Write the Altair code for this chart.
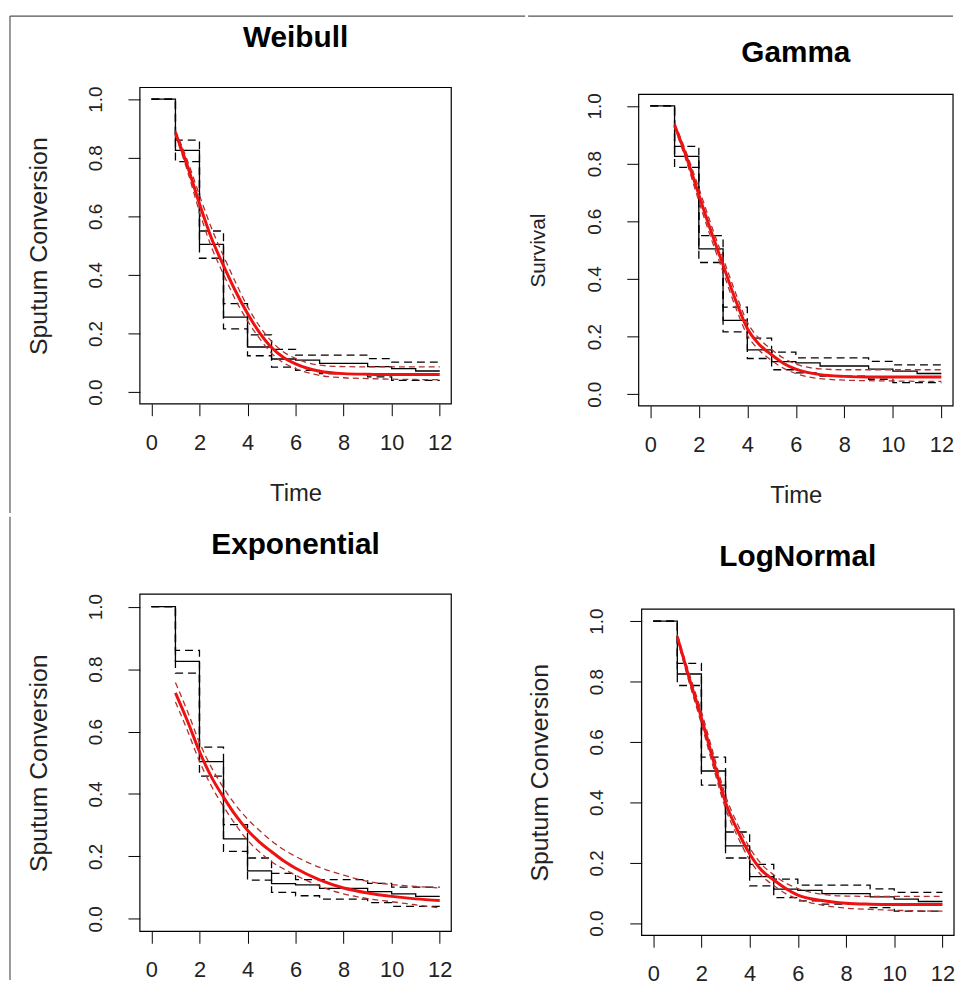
import altair as alt
import pandas as pd

# ---------------- data ----------------
km_t = [0, 1, 2, 3, 4, 5, 6, 7, 9, 10, 11, 12]
km_s = [1.0, 0.825, 0.504, 0.256, 0.154, 0.113, 0.109, 0.098, 0.087, 0.080, 0.072, 0.072]
km_up = [1.0, 0.860, 0.550, 0.302, 0.195, 0.146, 0.126, 0.126, 0.114, 0.102, 0.102, 0.102]
km_lo = [1.0, 0.787, 0.457, 0.216, 0.124, 0.085, 0.074, 0.063, 0.052, 0.040, 0.040, 0.040]

fit_t = [1, 1.5, 2, 2.5, 3, 3.5, 4, 4.5, 5, 5.5, 6, 7, 8, 9, 10, 11, 12]

weib_s = [0.885, 0.772, 0.643, 0.525, 0.432, 0.345, 0.268, 0.203, 0.152, 0.118, 0.096, 0.071, 0.063, 0.061, 0.060, 0.060, 0.060]
weib_up = [0.893, 0.790, 0.672, 0.560, 0.465, 0.375, 0.292, 0.225, 0.173, 0.137, 0.115, 0.092, 0.087, 0.086, 0.086, 0.086, 0.086]
weib_lo = [0.877, 0.755, 0.615, 0.495, 0.402, 0.315, 0.243, 0.183, 0.133, 0.100, 0.080, 0.057, 0.049, 0.046, 0.044, 0.043, 0.042]

gam_s = [0.933, 0.820, 0.692, 0.566, 0.448, 0.330, 0.228, 0.172, 0.137, 0.107, 0.087, 0.068, 0.062, 0.060, 0.060, 0.060, 0.060]
gam_up = [0.940, 0.835, 0.715, 0.590, 0.472, 0.355, 0.250, 0.192, 0.155, 0.125, 0.105, 0.088, 0.085, 0.085, 0.085, 0.085, 0.085]
gam_lo = [0.926, 0.805, 0.670, 0.542, 0.424, 0.305, 0.205, 0.152, 0.117, 0.090, 0.072, 0.054, 0.049, 0.047, 0.046, 0.045, 0.045]

exp_s = [0.724, 0.634, 0.536, 0.454, 0.390, 0.332, 0.284, 0.246, 0.215, 0.186, 0.162, 0.125, 0.099, 0.083, 0.072, 0.064, 0.059]
exp_up = [0.757, 0.665, 0.565, 0.485, 0.420, 0.365, 0.320, 0.283, 0.250, 0.222, 0.200, 0.165, 0.140, 0.120, 0.110, 0.104, 0.099]
exp_lo = [0.695, 0.603, 0.505, 0.425, 0.360, 0.302, 0.252, 0.214, 0.183, 0.160, 0.140, 0.105, 0.080, 0.065, 0.055, 0.045, 0.035]

ln_s = [0.948, 0.810, 0.680, 0.537, 0.400, 0.307, 0.230, 0.175, 0.143, 0.115, 0.093, 0.075, 0.066, 0.063, 0.062, 0.062, 0.062]
ln_up = [0.955, 0.825, 0.700, 0.560, 0.422, 0.328, 0.250, 0.195, 0.160, 0.133, 0.115, 0.096, 0.090, 0.089, 0.089, 0.089, 0.089]
ln_lo = [0.940, 0.795, 0.660, 0.515, 0.380, 0.287, 0.210, 0.157, 0.125, 0.098, 0.080, 0.060, 0.050, 0.046, 0.043, 0.041, 0.040]

x_ticks = [0, 2, 4, 6, 8, 10, 12]
y_ticks = [0.0, 0.2, 0.4, 0.6, 0.8, 1.0]

FONT = "Liberation Sans"
BORDER = "#555555"


def border_rule(x1, x2, y1, y2):
    return alt.Chart(pd.DataFrame({"k": [0]})).mark_rule(
        color=BORDER, strokeWidth=1.2
    ).encode(x=alt.value(x1), x2=alt.value(x2), y=alt.value(y1), y2=alt.value(y2))


def panel(title_text, ytitle, ytitle_size, fs, fu, fl, width, row_h, box_top,
          box_bot, title_y, ytitle_x, x_offset, show_xtitle, extras):
    km_df = pd.DataFrame({"t": km_t, "s": km_s, "up": km_up, "lo": km_lo})
    fit_df = pd.DataFrame({"t": fit_t, "s": fs, "up": fu, "lo": fl})

    xscale = alt.Scale(domain=[-0.48, 12.48], nice=False, zero=False)
    yscale = alt.Scale(domain=[-0.04, 1.04], range=[box_bot, box_top],
                       nice=False, zero=False)

    xaxis_kw = dict(values=x_ticks, grid=False, domain=False, tickSize=12,
                    tickColor="black", tickWidth=1, labelFontSize=22, labelFont=FONT,
                    labelColor="#222", labelPadding=17, labelFlush=False,
                    offset=x_offset)
    if show_xtitle:
        xaxis_kw.update(title="Time", titleFontSize=24, titleFont=FONT,
                        titleFontWeight="normal", titleColor="#222",
                        titleX=width / 2, titleY=91, titleBaseline="middle")
    else:
        xaxis_kw.update(title=None)
    xaxis = alt.Axis(**xaxis_kw)

    yaxis = alt.Axis(values=y_ticks, format=".1f", grid=False, domain=False,
                     tickSize=12, tickColor="black", tickWidth=1,
                     labelFontSize=19, labelFont=FONT, labelColor="#222",
                     labelAngle=270, labelAlign="center", labelBaseline="alphabetic",
                     labelPadding=27, labelFlush=False,
                     title=ytitle, titleFontSize=ytitle_size, titleFont=FONT,
                     titleFontWeight="normal", titleColor="#222",
                     titleAngle=270, titleX=ytitle_x,
                     titleY=(box_top + box_bot) / 2,
                     titleBaseline="middle", titleAlign="center")

    x = alt.X("t:Q", scale=xscale, axis=xaxis)
    y = alt.Y("s:Q", scale=yscale, axis=yaxis)

    frame = alt.Chart(pd.DataFrame({"k": [0]})).mark_rect(
        fillOpacity=0, stroke="black", strokeWidth=1.2
    ).encode(x=alt.value(0), x2=alt.value(width),
             y=alt.value(box_top), y2=alt.value(box_bot))

    title = alt.Chart(pd.DataFrame({"k": [0]})).mark_text(
        text=title_text, font=FONT, fontSize=30, fontWeight="bold",
        color="black", align="center", baseline="top"
    ).encode(x=alt.value(width / 2), y=alt.value(title_y))

    km_line = alt.Chart(km_df).mark_line(
        interpolate="step-after", color="black", strokeWidth=1.3
    ).encode(x=x, y=y)
    km_u = alt.Chart(km_df).mark_line(
        interpolate="step-after", color="black", strokeWidth=1.3, strokeDash=[8, 5]
    ).encode(x=alt.X("t:Q", scale=xscale), y=alt.Y("up:Q", scale=yscale))
    km_l = alt.Chart(km_df).mark_line(
        interpolate="step-after", color="black", strokeWidth=1.3, strokeDash=[8, 5]
    ).encode(x=alt.X("t:Q", scale=xscale), y=alt.Y("lo:Q", scale=yscale))

    f_u = alt.Chart(fit_df).mark_line(
        interpolate="monotone", color="#b03030", strokeWidth=1.3, strokeDash=[6, 4]
    ).encode(x=alt.X("t:Q", scale=xscale), y=alt.Y("up:Q", scale=yscale))
    f_l = alt.Chart(fit_df).mark_line(
        interpolate="monotone", color="#b03030", strokeWidth=1.3, strokeDash=[6, 4]
    ).encode(x=alt.X("t:Q", scale=xscale), y=alt.Y("lo:Q", scale=yscale))
    f_s = alt.Chart(fit_df).mark_line(
        interpolate="monotone", color="#ee1111", strokeWidth=3
    ).encode(x=alt.X("t:Q", scale=xscale), y=alt.Y("s:Q", scale=yscale))

    layers = [frame, km_line, km_u, km_l, f_u, f_l, f_s, title] + [
        border_rule(*e) for e in extras
    ]
    return alt.layer(*layers).properties(width=width, height=row_h)


# figure-frame lines (top edge and left edge of the picture), relative to each plot
p1 = panel("Weibull", "Sputum Conversion", 25, weib_s, weib_up, weib_lo,
           314, 321, 0, 319, -65, -102, -2, True,
           [(-131, 388.5, -72, -72), (-131, -131, -72, 429)])
p2 = panel("Gamma", "Survival", 21, gam_s, gam_up, gam_lo,
           317, 321, 7, 321, -50, -101, 0, True,
           [(-111.5, 317, -72, -72)])
p3 = panel("Exponential", "Sputum Conversion", 25, exp_s, exp_up, exp_lo,
           314, 344, 0, 340, -65, -102, -4, False,
           [(-131, -131, -78, 389)])
p4 = panel("LogNormal", "Sputum Conversion", 25, ln_s, ln_up, ln_lo,
           315, 344, 15, 344, -52, -103, 0, False, [])

chart = alt.vconcat(
    alt.hconcat(p1, p2, spacing=0),
    alt.hconcat(p3, p4, spacing=74),
    spacing=0,
).properties(
    padding={"left": 0, "top": 2, "right": 0, "bottom": 0},
    background="white",
).configure_view(stroke="transparent")

chart.save("out.html", embed_options={"renderer": "svg", "actions": False})
